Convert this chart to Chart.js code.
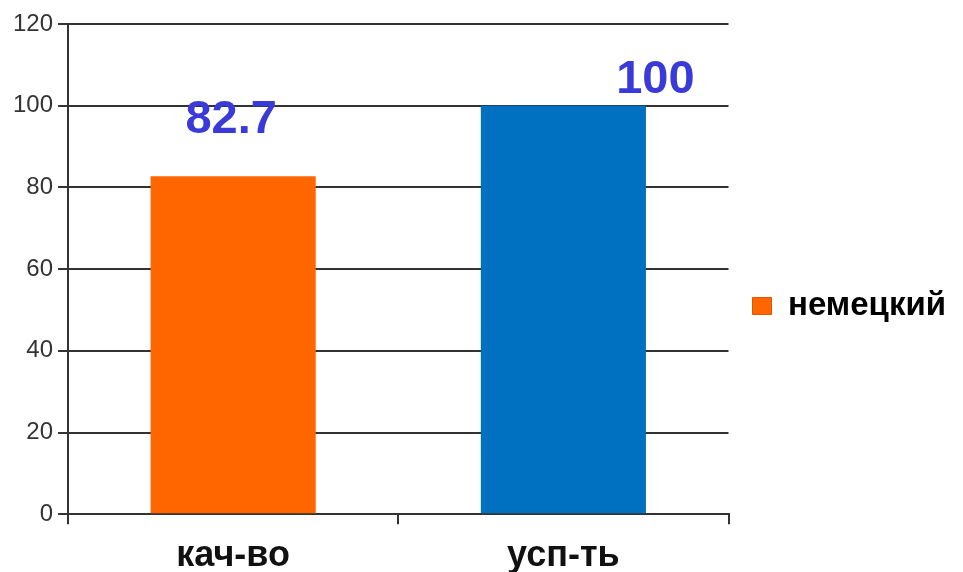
<!DOCTYPE html>
<html><head><meta charset="utf-8">
<script src="https://cdn.jsdelivr.net/npm/chart.js@4.4.1/dist/chart.umd.min.js"></script>
<style>html,body{margin:0;padding:0;background:#fff}#wrap{width:963px;height:572px}</style>
</head><body><div id="wrap"><canvas id="c" width="963" height="572"></canvas></div>
<script>
const categories = ['кач-во', 'усп-ть'];
const seriesName = 'немецкий';
const values = [82.7, 100];
const valueLabels = ['82.7', '100'];
const yTicks = [0, 20, 40, 60, 80, 100, 120];

const barColors = ['#FF6600', '#0070C0'];
const labelOffsets = [{dx: -2, dy: -43}, {dx: 92, dy: -13}];

const valueLabelPlugin = {
  id: 'valueLabels',
  afterDatasetsDraw(chart) {
    const ctx = chart.ctx;
    const meta = chart.getDatasetMeta(0);
    ctx.save();
    ctx.font = 'bold 47px "Liberation Sans", Arial, sans-serif';
    ctx.fillStyle = '#3A3AD8';
    ctx.textAlign = 'center';
    ctx.textBaseline = 'alphabetic';
    meta.data.forEach((bar, i) => {
      const o = labelOffsets[i];
      ctx.fillText(valueLabels[i], bar.x + o.dx, bar.y + o.dy);
    });
    ctx.restore();
  }
};

new Chart(document.getElementById('c'), {
  type: 'bar',
  data: {
    labels: categories,
    datasets: [{
      label: seriesName,
      data: values,
      backgroundColor: barColors,
      borderWidth: 0,
      categoryPercentage: 0.5,
      barPercentage: 1.0
    }]
  },
  options: {
    responsive: false,
    animation: false,
    layout: { padding: { top: 24, left: 8, right: 7, bottom: -16 } },
    plugins: {
      tooltip: { enabled: false },
      legend: {
        position: 'right',
        labels: {
          boxWidth: 19,
          boxHeight: 17,
          padding: 24,
          color: '#000',
          font: { family: '"Liberation Sans", Arial, sans-serif', size: 33, weight: 'bold' },
          generateLabels(chart) {
            return [{ text: seriesName, fillStyle: barColors[0], strokeStyle: '#E05500', lineWidth: 1, datasetIndex: 0 }];
          }
        }
      }
    },
    scales: {
      x: {
        offset: true,
        grid: { drawOnChartArea: false, offset: true, tickLength: 10, color: '#333', lineWidth: 2 },
        border: { color: '#333', width: 2 },
        ticks: {
          color: '#111', padding: 13,
          font: { family: '"Liberation Sans", Arial, sans-serif', size: 36, weight: 'bold', lineHeight: 1.05 }
        }
      },
      y: {
        min: 0, max: 120,
        afterBuildTicks(axis) { axis.ticks = yTicks.map(v => ({ value: v })); },
        grid: { color: '#333', lineWidth: 2, tickLength: 10 },
        border: { color: '#333', width: 2 },
        ticks: {
          color: '#333', padding: 5,
          font: { family: '"Liberation Sans", Arial, sans-serif', size: 24 }
        }
      }
    }
  },
  plugins: [valueLabelPlugin]
});
</script></body></html>
